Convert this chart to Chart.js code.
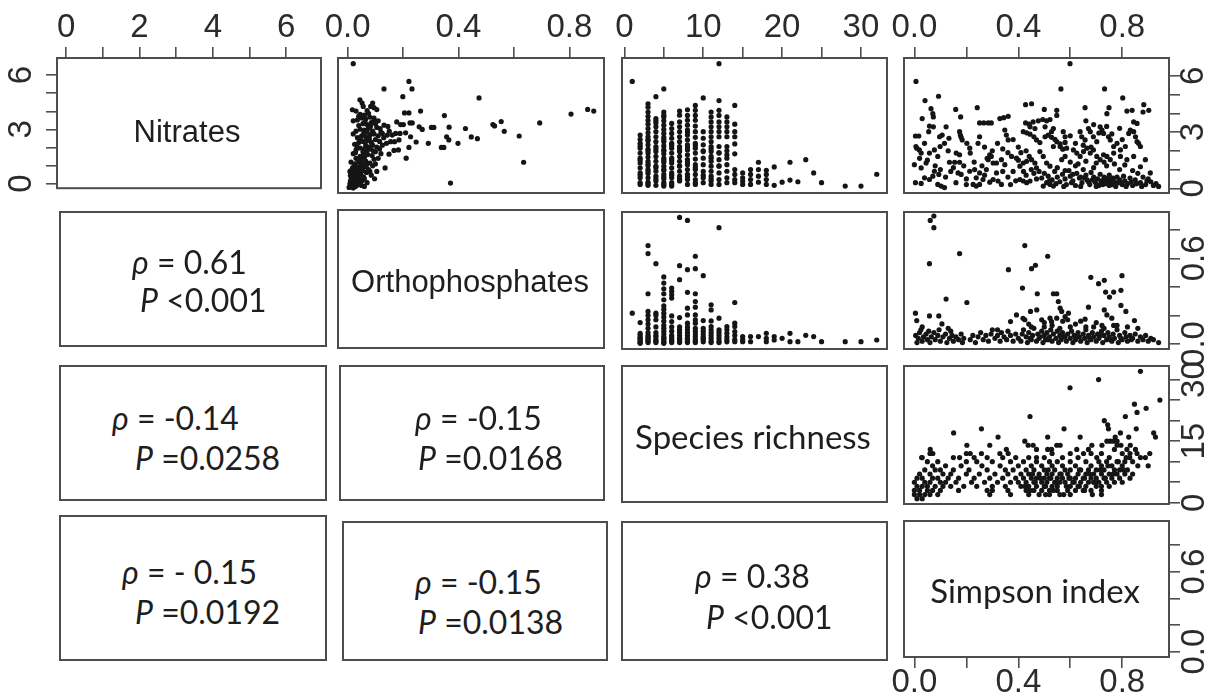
<!DOCTYPE html>
<html>
<head>
<meta charset="utf-8">
<script src="https://cdn.jsdelivr.net/npm/chart.js@4.4.1/dist/chart.umd.min.js"></script>
<style>
  html, body { margin: 0; padding: 0; background: #fff; overflow: hidden; }
  #page { position: relative; width: 1210px; height: 697px; overflow: hidden; }
  canvas { position: absolute; }
  .box { position: absolute; box-sizing: border-box; border: 2px solid #4d4d4d; }
  .txt { position: absolute; white-space: nowrap; line-height: 1; color: #1e1e1e; }
</style>
</head>
<body>
<div id="page"></div>
<script>
// variable names on the diagonal
const variables = ['Nitrates', 'Orthophosphates', 'Species richness', 'Simpson index'];

// correlation text of the lower panels
const rhoText = ['0.61', '-0.14', '-0.15', '- 0.15', '-0.15', '0.38'];
const pText = ['<0.001', '=0.0258', '=0.0168', '=0.0192', '=0.0138', '<0.001'];

// axis ranges, ticks and tick labels
const nitrateRange = [-0.25, 6.95];
const orthoRange = [-0.035, 0.925];
const speciesRange = [-0.3, 33.3];
const simpsonRange = [-0.04, 0.98];

const nitrateTicks = [0, 1, 2, 3, 4, 5, 6];
const nitrateTopLabels = ['0', '', '2', '', '4', '', '6'];
const nitrateSideLabels = ['0', '', '', '3', '', '', '6'];
const orthoTicks = [0, 0.2, 0.4, 0.6, 0.8];
const orthoTopLabels = ['0.0', '', '0.4', '', '0.8'];
const orthoSideLabels = ['0.0', '', '', '0.6', ''];
const speciesTicks = [0, 5, 10, 15, 20, 25, 30];
const speciesTopLabels = ['0', '', '10', '', '20', '', '30'];
const speciesSideLabels = ['0', '', '', '15', '', '', '30'];
const simpsonTicks = [0, 0.2, 0.4, 0.6, 0.8];
const simpsonTopLabels = ['0.0', '', '0.4', '', '0.8'];
const simpsonSideLabels = ['0.0', '', '', '0.6', ''];

// orthophosphates (x) vs nitrates (y)
const orthoNitrates = [
  [0.020,6.65],[0.221,5.70],[0.232,5.30],[0.131,5.30],[0.199,4.89],[0.474,4.82],[0.806,3.96],[0.866,4.21],[0.888,4.12],
  [0.693,3.49],[0.635,1.39],[0.619,2.79],[0.565,3.04],[0.554,3.56],[0.524,3.40],[0.530,3.33],[0.468,2.65],[0.446,2.74],
  [0.425,3.19],[0.398,2.40],[0.371,0.28],[0.366,3.26],[0.349,3.88],[0.357,2.75],[0.365,2.58],[0.338,2.18],[0.347,2.18],
  [0.311,3.25],[0.302,3.25],[0.291,2.40],[0.269,3.14],[0.258,3.28],[0.263,4.12],[0.247,2.47],[0.227,2.75],[0.221,2.18],
  [0.211,1.61],[0.205,4.02],[0.221,4.02],[0.233,3.49],[0.225,3.49],[0.201,3.40],[0.191,3.40],[0.177,3.54],[0.209,2.96],
  [0.189,2.93],[0.173,2.93],[0.161,2.84],[0.143,2.84],[0.155,2.49],[0.169,2.49],[0.185,2.58],[0.183,2.05],[0.167,2.02],
  [0.149,1.82],[0.135,1.09],[0.097,0.51],[0.131,3.37],[0.117,3.19],[0.125,2.93],
  [0.005,0.05],[0.012,0.12],[0.020,0.02],[0.028,0.10],[0.035,0.18],[0.008,0.25],[0.018,0.30],[0.030,0.35],[0.045,0.22],
  [0.052,0.40],[0.060,0.10],[0.040,0.45],[0.015,0.50],[0.070,0.30],[0.025,0.55],[0.010,0.70],[0.022,0.80],[0.035,0.65],
  [0.048,0.75],[0.058,0.60],[0.068,0.85],[0.030,0.95],[0.042,1.05],[0.055,0.95],[0.075,1.00],[0.085,0.70],[0.018,1.10],
  [0.062,1.15],[0.090,1.20],[0.105,0.90],[0.025,1.30],[0.038,1.40],[0.050,1.30],[0.065,1.45],[0.080,1.35],[0.095,1.55],
  [0.030,1.60],[0.045,1.70],[0.060,1.65],[0.072,1.80],[0.088,1.75],[0.110,1.60],[0.020,1.85],[0.055,1.95],[0.100,1.95],
  [0.120,1.85],[0.030,2.05],[0.045,2.15],[0.060,2.10],[0.075,2.20],[0.090,2.30],[0.105,2.20],[0.025,2.35],[0.040,2.45],
  [0.055,2.50],[0.070,2.55],[0.085,2.45],[0.100,2.60],[0.115,2.50],[0.035,2.70],[0.050,2.80],[0.065,2.75],[0.080,2.85],
  [0.095,2.90],[0.110,2.80],[0.020,2.90],[0.130,2.70],[0.140,2.40],[0.030,3.05],[0.045,3.15],[0.060,3.10],[0.075,3.20],
  [0.090,3.05],[0.105,3.25],[0.040,3.35],[0.055,3.45],[0.070,3.40],[0.085,3.50],[0.100,3.45],[0.020,3.60],[0.035,3.65],
  [0.050,3.75],[0.065,3.70],[0.080,3.80],[0.095,3.75],[0.110,3.60],[0.045,3.95],[0.060,3.90],[0.075,4.00],[0.145,3.30],
  [0.150,3.05],[0.017,4.19],[0.030,4.12],[0.044,4.72],[0.056,4.37],[0.083,4.37],[0.095,4.30],[0.070,4.15],[0.052,4.55],
  [0.090,4.55],[0.105,4.20],[0.010,0.40],[0.020,0.65],[0.032,0.85],[0.045,0.95],[0.015,1.00],[0.050,1.20],[0.038,0.50],
  [0.022,0.20],[0.060,0.50],[0.008,0.90],[0.040,1.60],[0.028,1.90],[0.065,2.30],[0.012,1.40],[0.015,0.15],[0.026,0.42],
  [0.034,0.28],[0.042,0.60],[0.050,0.15],[0.012,0.60],[0.024,1.20],[0.036,1.15],[0.048,1.50],[0.058,1.80],[0.070,2.00],
  [0.082,2.10],[0.034,2.20],[0.046,2.60],[0.058,2.95],[0.070,3.00],[0.082,3.30],[0.094,3.60],[0.040,3.85],[0.062,3.55],
  [0.078,2.65],[0.092,2.00],[0.068,1.25],[0.080,0.90],[0.100,1.30],[0.115,2.10],[0.125,2.30],[0.120,3.00]
];

// nitrates at each species richness value
const nitratesBySpecies = [
  [1, [5.70]],
  [2, [2.84,2.61,2.40,2.14,1.88,1.61,1.35,1.09,0.82,0.56,0.30,0.21,2.26,1.50,0.70]],
  [3, [4.51,4.33,4.07,3.84,3.63,3.42,3.19,2.96,2.75,2.54,2.32,2.09,1.88,1.67,1.44,1.21,1.00,0.79,0.56,0.33,0.16,0.25,0.90,1.30,2.00,2.60]],
  [4, [4.89,3.72,3.49,3.28,3.02,2.75,2.49,2.23,1.96,1.70,1.44,1.18,0.91,0.65,0.39,0.16,2.10,1.10,0.50,3.60]],
  [5, [5.30,4.07,3.81,3.60,3.37,3.14,2.93,2.72,2.49,2.26,2.05,1.84,1.61,1.39,1.18,0.96,0.74,0.51,0.30,0.12,3.90,2.60,1.50,0.60,0.20,2.00,1.00]],
  [6, [3.46,3.19,2.93,2.67,2.40,2.14,1.88,1.61,1.35,1.09,0.82,0.56,0.30,0.12,1.50,0.70,2.30,0.20]],
  [7, [4.12,3.54,3.28,3.02,2.75,2.49,2.23,1.96,1.70,1.44,1.18,0.91,0.65,0.39,3.90,1.20,0.50,2.10]],
  [8, [4.19,3.89,3.63,3.37,3.11,2.84,2.58,2.32,2.05,1.79,1.53,1.26,1.00,0.74,0.47,0.21,2.20,1.40,0.60,3.00]],
  [9, [4.42,4.16,3.89,3.63,3.32,3.02,2.72,2.40,2.14,1.88,1.56,1.26,1.00,0.74,0.47,0.21,2.30,1.10,0.30]],
  [10, [4.82,3.02,2.67,2.32,1.96,1.61,1.26,0.91,0.56,0.30,2.00,0.70]],
  [11, [4.07,3.81,3.54,3.28,3.02,2.75,2.49,2.23,1.96,1.70,1.44,1.18,0.91,0.65,0.39,0.21,2.10,1.60,0.50]],
  [12, [6.65,4.68,4.16,3.89,3.54,3.28,3.02,2.75,2.23,1.88,1.53,1.18,0.82,0.47,0.21,1.90,1.20]],
  [13, [3.81,3.54,3.28,3.02,2.75,2.23,1.79,1.61,1.26,0.91,0.56,0.30,2.00]],
  [14, [4.42,3.42,3.02,2.75,2.37,1.84,1.00,0.74,0.47,0.30]],
  [15, [0.82,0.56,0.39,0.21]],
  [16, [1.00,0.74,0.47,0.21]],
  [17, [1.39,1.00,0.65,0.33]],
  [18, [0.96,0.74,0.47,0.21]],
  [19, [1.14,0.16]],
  [20, [0.33]],
  [21, [1.39,0.44]],
  [22, [0.35]],
  [23, [1.53]],
  [24, [0.82]],
  [25, [0.30]],
  [28, [0.12]],
  [30, [0.12]],
  [32, [0.75]]
];

// simpson index (x) vs nitrates (y)
const simpsonNitrates = [
  [0.006,5.70],[0.599,6.65],[0.564,5.30],[0.732,5.30],[0.802,4.82],[0.093,4.91],[0.041,4.68],[0.159,4.21],[0.242,4.30],
  [0.428,4.46],[0.451,4.51],[0.500,4.21],[0.548,4.16],[0.548,3.89],[0.657,4.30],[0.749,4.30],[0.741,3.98],[0.818,4.12],
  [0.838,4.16],[0.883,4.46],[0.902,4.16],[0.880,4.07],[0.064,4.25],[0.071,3.98],[0.073,3.81],[0.030,3.72],[0.178,3.81],
  [0.251,3.49],[0.267,3.49],[0.284,3.49],[0.296,3.49],[0.329,3.72],[0.344,3.77],[0.361,3.84],[0.348,3.11],[0.354,2.84],
  [0.361,2.58],[0.428,3.49],[0.442,3.42],[0.457,3.54],[0.477,3.60],[0.494,3.67],[0.509,3.60],[0.522,3.67],[0.445,3.28],
  [0.464,3.19],[0.503,3.28],[0.535,3.19],[0.528,3.02],[0.419,3.02],[0.432,2.96],[0.445,2.89],[0.460,2.75],[0.470,2.58],
  [0.483,2.44],[0.503,2.75],[0.515,2.84],[0.528,2.72],[0.541,2.61],[0.548,2.49],[0.561,2.37],[0.573,3.02],[0.580,2.75],
  [0.535,2.23],[0.561,2.23],[0.571,2.09],[0.586,2.14],[0.580,1.70],[0.567,1.53],[0.004,2.79],[0.017,2.79],[0.055,3.02],
  [0.058,3.32],[0.073,3.28],[0.097,2.75],[0.107,2.84],[0.122,3.28],[0.133,2.67],[0.174,3.02],[0.177,2.84],[0.180,2.72],
  [0.184,2.58],[0.202,2.40],[0.213,2.14],[0.215,1.88],[0.245,2.40],[0.251,2.75],[0.006,2.23],[0.009,2.14],[0.019,2.05],
  [0.026,1.88],[0.039,2.40],[0.058,1.88],[0.077,2.05],[0.090,1.70],[0.099,2.23],[0.116,2.40],[0.135,1.39],[0.155,1.39],
  [0.174,1.39],[0.161,1.88],[0.174,1.79],[0.000,1.26],[0.026,1.09],[0.045,1.35],[0.077,0.91],[0.094,0.74],[0.071,0.65],
  [0.058,0.47],[0.039,0.56],[0.004,0.30],[0.026,0.26],[0.090,0.21],[0.103,0.12],[0.116,0.04],[0.168,0.82],[0.180,0.74],
  [0.213,0.91],[0.232,1.00],[0.238,0.56],[0.251,0.82],[0.264,0.47],[0.277,1.00],[0.284,1.53],[0.290,1.79],[0.296,1.70],
  [0.303,1.35],[0.316,0.82],[0.322,0.39],[0.335,0.21],[0.226,0.21],[0.238,0.12],[0.251,0.21],[0.290,0.33],[0.303,0.47],
  [0.316,1.35],[0.335,1.53],[0.348,1.26],[0.374,1.70],[0.393,1.61],[0.406,1.18],[0.419,1.35],[0.432,1.44],[0.442,1.70],
  [0.451,1.53],[0.464,1.35],[0.470,1.09],[0.483,1.96],[0.496,1.70],[0.509,1.35],[0.522,1.18],[0.406,0.47],[0.419,0.39],
  [0.432,0.30],[0.445,0.39],[0.509,0.30],[0.522,0.21],[0.535,0.12],[0.496,0.12],
  [0.490,0.55],[0.500,0.80],[0.515,0.65],[0.530,0.45],[0.540,0.90],[0.550,0.60],[0.560,0.35],[0.570,0.75],[0.580,0.50],
  [0.585,0.20],[0.595,0.95],[0.600,0.65],[0.610,0.40],[0.620,0.15],[0.625,0.80],[0.635,0.55],[0.645,0.30],[0.650,1.00],
  [0.660,0.70],[0.665,0.45],[0.675,0.20],[0.680,0.85],[0.690,0.60],[0.695,0.35],[0.705,0.50],[0.710,0.15],[0.715,0.75],
  [0.720,0.40],[0.730,0.60],[0.735,0.25],[0.740,0.50],[0.745,0.35],[0.750,0.70],[0.755,0.45],[0.760,0.20],[0.765,0.55],
  [0.770,0.35],[0.780,0.60],[0.785,0.30],[0.790,0.45],[0.800,0.20],[0.805,0.65],[0.810,0.40],[0.820,0.25],[0.830,0.55],
  [0.840,0.15],[0.850,0.45],[0.860,0.80],[0.870,0.30],[0.880,0.60],[0.890,0.20],[0.900,0.50],[0.910,0.35],[0.920,0.15],
  [0.930,0.25],[0.720,0.30],[0.760,0.40],[0.730,0.45],[0.700,0.25],[0.670,0.35],[0.640,0.60],[0.610,0.75],[0.580,0.95],
  [0.550,1.10],[0.620,1.20],[0.690,1.10],[0.740,1.20],[0.790,1.00],[0.840,0.95],[0.870,1.15],
  [0.638,3.02],[0.644,2.75],[0.657,2.58],[0.670,3.19],[0.677,3.02],[0.689,2.75],[0.702,2.49],[0.715,3.28],[0.722,3.11],
  [0.728,2.93],[0.747,2.75],[0.754,2.58],[0.767,2.23],[0.780,2.40],[0.793,2.05],[0.812,2.23],[0.825,2.93],[0.831,3.11],
  [0.844,3.02],[0.851,2.75],[0.857,2.49],[0.863,2.40],[0.870,2.23],[0.844,3.54],[0.857,3.46],[0.612,2.05],[0.625,1.88],
  [0.638,1.70],[0.651,1.96],[0.664,2.14],[0.677,1.88],[0.689,2.05],[0.702,1.70],[0.715,1.53],[0.728,1.79],[0.741,1.70],
  [0.754,1.53],[0.767,1.88],[0.793,1.70],[0.818,1.53],[0.844,1.70],[0.889,1.53],[0.908,0.82],[0.600,1.40],[0.630,1.30],
  [0.660,1.45],[0.700,1.35],[0.730,1.40],[0.770,1.30],[0.810,1.25],[0.620,2.40],[0.650,2.30],[0.680,2.20],[0.710,2.95],
  [0.740,3.30],[0.660,3.60],[0.690,3.40],[0.580,2.45],[0.600,2.80],[0.760,2.90],[0.790,3.20],[0.800,2.60],
  [0.020,1.60],[0.050,1.50],[0.080,1.20],[0.100,1.00],[0.120,0.60],[0.140,0.90],[0.150,1.10],[0.190,1.20],[0.200,0.50],
  [0.160,0.30],[0.200,0.20],[0.260,1.20],[0.280,1.60],[0.300,2.00],[0.320,2.40],[0.340,2.10],[0.360,1.90],[0.380,0.90],
  [0.390,0.40],[0.400,2.20],[0.410,1.90],[0.430,2.00],[0.380,2.60],[0.370,0.20],[0.360,0.60],[0.420,0.90],[0.460,0.80],
  [0.470,0.50],[0.450,1.00],[0.480,0.90],
  [0.520,0.40],[0.545,0.25],[0.575,0.10],[0.605,0.30],[0.640,0.10],[0.655,0.55],[0.685,0.45],[0.700,0.10],[0.725,0.20],
  [0.750,0.15],[0.775,0.10],[0.795,0.30],[0.815,0.10],[0.835,0.35],[0.855,0.25],[0.875,0.10],[0.895,0.40],[0.940,0.10],
  [0.230,1.40],[0.270,0.70],[0.340,0.90],[0.400,1.50],[0.430,0.70],[0.130,2.00],[0.270,2.20]
];

// orthophosphates at each species richness value
const orthoBySpecies = [
  [1, [0.216]],
  [2, [0.150,0.075,0.060,0.045,0.030,0.020,0.010,0.005,0.040]],
  [3, [0.690,0.634,0.352,0.228,0.200,0.170,0.140,0.110,0.080,0.060,0.040,0.020,0.010,0.030,0.050]],
  [4, [0.563,0.216,0.200,0.170,0.120,0.080,0.050,0.030,0.010,0.020,0.060]],
  [5, [0.470,0.427,0.387,0.352,0.310,0.268,0.244,0.216,0.190,0.160,0.130,0.110,0.090,0.070,0.050,0.035,0.020,0.010,0.005,0.040]],
  [6, [0.392,0.369,0.345,0.322,0.197,0.157,0.120,0.090,0.060,0.030,0.010,0.045,0.020]],
  [7, [0.887,0.549,0.451,0.185,0.120,0.100,0.080,0.060,0.040,0.020,0.010,0.030]],
  [8, [0.866,0.521,0.362,0.251,0.204,0.146,0.120,0.100,0.080,0.060,0.040,0.020,0.010,0.030]],
  [9, [0.615,0.528,0.352,0.298,0.258,0.204,0.169,0.146,0.110,0.090,0.070,0.050,0.030,0.010,0.020]],
  [10, [0.479,0.164,0.110,0.090,0.070,0.050,0.030,0.015,0.040]],
  [11, [0.275,0.239,0.162,0.122,0.100,0.080,0.060,0.040,0.020,0.010]],
  [12, [0.815,0.181,0.099,0.080,0.060,0.040,0.020,0.010]],
  [13, [0.122,0.100,0.075,0.050,0.030,0.015]],
  [14, [0.291,0.146,0.122,0.087,0.060,0.030,0.016]],
  [15, [0.052,0.016,0.030]],
  [16, [0.052,0.016]],
  [17, [0.052]],
  [18, [0.075,0.040,0.016]],
  [19, [0.052,0.028]],
  [20, [0.040]],
  [21, [0.075,0.016]],
  [22, [0.016]],
  [23, [0.061]],
  [24, [0.052]],
  [25, [0.016]],
  [28, [0.016]],
  [30, [0.016]],
  [32, [0.028]]
];

// simpson index (x) vs orthophosphates (y)
const simpsonOrtho = [
  [0.061,0.866],[0.075,0.897],[0.075,0.815],[0.058,0.563],[0.174,0.634],[0.122,0.315],[0.202,0.291],[0.058,0.197],
  [0.094,0.197],[0.106,0.141],[0.004,0.216],[0.009,0.164],[0.425,0.690],[0.513,0.615],[0.362,0.521],[0.451,0.528],
  [0.466,0.552],[0.416,0.392],[0.473,0.352],[0.535,0.352],[0.548,0.352],[0.554,0.298],[0.561,0.251],[0.567,0.228],
  [0.393,0.204],[0.425,0.170],[0.418,0.180],[0.447,0.228],[0.471,0.239],[0.370,0.157],[0.522,0.181],[0.528,0.157],
  [0.548,0.181],[0.580,0.192],[0.593,0.216],[0.571,0.160],[0.657,0.174],[0.670,0.258],[0.679,0.467],[0.709,0.423],
  [0.731,0.446],[0.736,0.364],[0.751,0.329],[0.767,0.364],[0.799,0.479],[0.795,0.376],[0.795,0.270],[0.814,0.228],
  [0.731,0.239],[0.741,0.204],[0.760,0.181],[0.722,0.130],[0.767,0.130],[0.847,0.164],[0.490,0.170],[0.500,0.120],
  [0.440,0.140],[0.600,0.120],[0.690,0.120],[0.320,0.100],[0.130,0.110],[0.030,0.120],
  [0.005,0.06],[0.015,0.04],[0.020,0.08],[0.030,0.02],[0.035,0.05],[0.045,0.07],[0.050,0.03],[0.060,0.01],[0.065,0.05],
  [0.075,0.08],[0.080,0.03],[0.090,0.06],[0.100,0.02],[0.110,0.05],[0.120,0.07],[0.125,0.01],[0.135,0.04],[0.145,0.06],
  [0.150,0.02],[0.160,0.05],[0.170,0.03],[0.180,0.07],[0.185,0.01],[0.190,0.04],[0.010,0.01],[0.025,0.10],[0.055,0.09],
  [0.095,0.10],[0.140,0.09],[0.215,0.03],[0.225,0.06],[0.235,0.01],[0.245,0.05],[0.255,0.08],[0.265,0.03],[0.275,0.06],
  [0.285,0.02],[0.295,0.07],[0.300,0.10],[0.310,0.04],[0.320,0.06],[0.330,0.02],[0.335,0.08],[0.345,0.05],[0.355,0.03],
  [0.360,0.09],[0.370,0.06],[0.380,0.02],[0.390,0.07],[0.400,0.04],[0.410,0.02],[0.415,0.07],[0.420,0.10],[0.430,0.05],
  [0.435,0.01],[0.440,0.08],[0.450,0.03],[0.455,0.06],[0.460,0.11],[0.470,0.02],[0.475,0.07],[0.480,0.04],[0.490,0.09],
  [0.495,0.01],[0.500,0.06],[0.505,0.03],[0.510,0.08],[0.520,0.05],[0.525,0.10],[0.530,0.02],[0.535,0.07],[0.545,0.04],
  [0.550,0.09],[0.555,0.01],[0.560,0.06],[0.565,0.03],[0.570,0.08],[0.580,0.05],[0.585,0.02],[0.590,0.07],[0.600,0.04],
  [0.605,0.09],[0.610,0.01],[0.615,0.06],[0.620,0.03],[0.630,0.08],[0.635,0.05],[0.640,0.02],[0.650,0.07],[0.655,0.04],
  [0.660,0.10],[0.665,0.01],[0.670,0.06],[0.680,0.03],[0.685,0.08],[0.690,0.05],[0.700,0.02],[0.705,0.07],[0.710,0.04],
  [0.720,0.09],[0.725,0.01],[0.730,0.06],[0.740,0.03],[0.745,0.08],[0.750,0.05],[0.760,0.02],[0.765,0.07],[0.770,0.04],
  [0.780,0.10],[0.785,0.01],[0.790,0.06],[0.800,0.03],[0.810,0.08],[0.815,0.05],[0.820,0.02],[0.830,0.06],[0.840,0.04],
  [0.850,0.07],[0.860,0.02],[0.870,0.05],[0.880,0.03],[0.890,0.06],[0.900,0.02],[0.910,0.04],[0.920,0.03],[0.940,0.01],
  [0.445,0.04],[0.485,0.05],[0.515,0.03],[0.575,0.05],[0.625,0.05],[0.675,0.04],[0.715,0.06],[0.755,0.03],[0.795,0.04],
  [0.835,0.03],[0.450,0.12],[0.500,0.15],[0.530,0.13],[0.560,0.11],[0.620,0.14],[0.660,0.12],[0.700,0.15],[0.730,0.11],
  [0.780,0.13],[0.820,0.12],[0.860,0.11],[0.590,0.17],[0.640,0.16]
];

// simpson index (x) vs species richness (y)
const simpsonSpecies = [
  [0.870,32],[0.709,30],[0.599,28],[0.945,25],[0.892,23],[0.847,24],[0.857,22],[0.445,21],[0.812,21],[0.731,20],
  [0.744,19],[0.747,18],[0.258,18],[0.576,18],[0.793,17],[0.151,17],[0.322,16],[0.513,16],[0.638,16],[0.773,16],
  [0.825,16],[0.854,18],[0.921,17],[0.928,16],[0.741,15],[0.754,15],[0.767,15],[0.780,15],[0.425,15],[0.202,14],
  [0.290,14],[0.438,14],[0.457,14],[0.513,13],[0.528,13],[0.548,14],[0.561,14],[0.625,13],[0.683,14],[0.722,14],
  [0.780,14],[0.831,14],[0.354,13],[0.061,13],[0.028,11],[0.071,12],[0.174,11],[0.215,12],[0.258,12],[0.329,12],
  [0.361,12],[0.651,12],[0.670,13],[0.795,14],[0.818,13],[0.851,13],[0.857,12],[0.906,12],[0.889,11],[0.870,11],
  [0.829,11],[0.702,11],[0.470,13],[0.470,11],
  [0.05,10],[0.09,10],[0.20,10],[0.24,10],[0.30,10],[0.37,10],[0.42,10],[0.47,10],[0.52,10],[0.55,10],[0.60,10],
  [0.66,10],[0.71,10],[0.74,10],[0.78,10],[0.81,10],[0.84,10],
  [0.07,9],[0.12,9],[0.18,9],[0.26,9],[0.33,9],[0.40,9],[0.45,9],[0.49,9],[0.53,9],[0.57,9],[0.62,9],[0.68,9],[0.72,9],
  [0.76,9],[0.80,9],[0.86,9],[0.90,9],
  [0.04,8],[0.08,8],[0.10,8],[0.15,8],[0.21,8],[0.28,8],[0.35,8],[0.38,8],[0.43,8],[0.46,8],[0.50,8],[0.54,8],[0.58,8],
  [0.60,8],[0.64,8],[0.67,8],[0.70,8],[0.73,8],[0.77,8],[0.79,8],[0.82,8],
  [0.02,7],[0.06,7],[0.11,7],[0.14,7],[0.20,7],[0.25,7],[0.31,7],[0.36,7],[0.41,7],[0.44,7],[0.48,7],[0.51,7],[0.53,7],
  [0.56,7],[0.59,7],[0.63,7],[0.66,7],[0.69,7],[0.72,7],[0.75,7],[0.78,7],[0.81,7],[0.84,7],
  [0.01,6],[0.03,6],[0.07,6],[0.09,6],[0.13,6],[0.17,6],[0.23,6],[0.29,6],[0.34,6],[0.39,6],[0.42,6],[0.45,6],[0.47,6],
  [0.50,6],[0.52,6],[0.55,6],[0.57,6],[0.60,6],[0.62,6],[0.65,6],[0.68,6],[0.70,6],[0.73,6],[0.76,6],[0.79,6],[0.83,6],
  [0.00,5],[0.04,5],[0.06,5],[0.10,5],[0.12,5],[0.16,5],[0.22,5],[0.27,5],[0.32,5],[0.37,5],[0.40,5],[0.43,5],[0.46,5],
  [0.49,5],[0.51,5],[0.54,5],[0.56,5],[0.58,5],[0.61,5],[0.64,5],[0.67,5],[0.69,5],[0.71,5],[0.74,5],[0.77,5],[0.80,5],
  [0.01,4],[0.03,4],[0.05,4],[0.08,4],[0.11,4],[0.14,4],[0.19,4],[0.24,4],[0.30,4],[0.35,4],[0.41,4],[0.44,4],[0.47,4],
  [0.50,4],[0.53,4],[0.55,4],[0.60,4],[0.63,4],[0.66,4],[0.70,4],[0.72,4],[0.75,4],
  [0.00,3],[0.02,3],[0.05,3],[0.07,3],[0.10,3],[0.17,3],[0.28,3],[0.30,3],[0.36,3],[0.43,3],[0.46,3],[0.49,3],[0.52,3],
  [0.55,3],[0.59,3],[0.62,3],[0.65,3],[0.68,3],[0.72,3],
  [0.00,2],[0.02,2],[0.04,2],[0.06,2],[0.09,2],[0.29,2],[0.37,2],[0.44,2],[0.48,2],[0.52,2],[0.56,2],[0.60,2],[0.72,2],
  [0.01,1],[0.03,1],
  [0.03,11],[0.06,12],[0.15,11],[0.20,12],[0.23,11],[0.28,11],[0.34,11],[0.39,11],[0.44,11],[0.50,11],[0.53,12],
  [0.57,11],[0.60,12],[0.63,11],[0.68,12],[0.72,12],[0.75,11],[0.77,13],[0.80,12],[0.83,12],
  [0.455,7],[0.465,5],[0.485,6],[0.505,4],[0.515,8],[0.525,6],[0.545,5],[0.565,7],[0.585,4],[0.595,6],[0.615,5],
  [0.635,8],[0.655,6],[0.675,7],[0.695,5],[0.715,8],[0.735,6],[0.745,9],[0.765,7],[0.785,10],[0.805,8],[0.815,11],
  [0.425,4],[0.445,3],[0.505,2],[0.535,3],[0.575,2],[0.635,4],[0.655,3],[0.685,2]
];

// ---- layout ----
const colX = [[57, 321], [338, 604], [622, 887], [904, 1169]];
const rowY = [[58, 193], [212, 349], [366, 504], [521, 657]];

const AXIS_FONT = '"Liberation Sans", Arial, sans-serif';
const SOFT_FONT = 'Lato, "Open Sans", sans-serif';
const TICK_SIZE = 33;
const page = document.getElementById('page');

const toXY = pairs => pairs.map(([x, y]) => ({ x, y }));
const fromColumns = cols => cols.flatMap(([x, ys]) => ys.map(y => ({ x, y })));

const framePlugin = {
  id: 'frame',
  afterDatasetsDraw(chart) {
    const a = chart.chartArea, g = chart.ctx;
    g.save();
    g.strokeStyle = '#4d4d4d';
    g.lineWidth = 2;
    g.strokeRect(a.left, a.top, a.right - a.left, a.bottom - a.top);
    g.restore();
  }
};

function makeScale(ax, size) {
  const vertical = ax.pos === 'left' || ax.pos === 'right';
  const s = {
    type: 'linear',
    min: ax.range[0],
    max: ax.range[1],
    display: !!ax.pos,
    grid: { drawOnChartArea: false, drawTicks: true, tickLength: 11, color: '#505050', lineWidth: 1.6 },
    border: { display: false },
    afterBuildTicks: sc => { sc.ticks = ax.ticks.map(v => ({ value: v })); },
    ticks: {
      autoSkip: false,
      includeBounds: false,
      color: '#2b2b2b',
      font: { family: AXIS_FONT, size: TICK_SIZE },
      padding: ax.pad || 0,
      minRotation: vertical ? 90 : 0,
      maxRotation: vertical ? 90 : 0,
      crossAlign: vertical ? 'center' : 'near',
      callback: (v, i) => ax.labels[i]
    }
  };
  if (ax.pos) {
    s.position = ax.pos;
    s.afterFit = sc => { if (vertical) sc.width = size; else sc.height = size; };
  }
  return s;
}

function panel(r, c, xAx, yAx, points) {
  const [x0, x1] = colX[c], [y0, y1] = rowY[r];
  const m = { l: 30, r: 30, t: 30, b: 30 };
  if (xAx.pos === 'top') m.t = y0;
  if (xAx.pos === 'bottom') m.b = 40;
  if (yAx.pos === 'left') m.l = x0;
  if (yAx.pos === 'right') m.r = 41;
  const cv = document.createElement('canvas');
  cv.width = x1 - x0 + m.l + m.r;
  cv.height = y1 - y0 + m.t + m.b;
  cv.style.left = (x0 - m.l) + 'px';
  cv.style.top = (y0 - m.t) + 'px';
  page.appendChild(cv);
  new Chart(cv, {
    type: 'scatter',
    data: {
      datasets: [{
        data: points,
        pointRadius: 2.6,
        pointHoverRadius: 2.6,
        backgroundColor: '#151515',
        borderWidth: 0
      }]
    },
    options: {
      responsive: false,
      animation: false,
      devicePixelRatio: 1,
      layout: {
        autoPadding: false,
        padding: {
          left: yAx.pos === 'left' ? 0 : m.l,
          right: yAx.pos === 'right' ? 0 : m.r,
          top: xAx.pos === 'top' ? 0 : m.t,
          bottom: xAx.pos === 'bottom' ? 0 : m.b
        }
      },
      plugins: { legend: { display: false }, tooltip: { enabled: false } },
      scales: {
        x: makeScale(xAx, xAx.pos === 'top' ? m.t : m.b),
        y: makeScale(yAx, yAx.pos === 'left' ? m.l : m.r)
      }
    },
    plugins: [framePlugin]
  });
}

function box(x0, y0, x1, y1) {
  const d = document.createElement('div');
  d.className = 'box';
  d.style.left = (x0 - 1) + 'px';
  d.style.top = (y0 - 1) + 'px';
  d.style.width = (x1 - x0 + 2) + 'px';
  d.style.height = (y1 - y0 + 2) + 'px';
  page.appendChild(d);
}

function text(html, x, y, font, size, centred) {
  const d = document.createElement('div');
  d.className = 'txt';
  d.innerHTML = html;
  d.style.left = x + 'px';
  d.style.top = y + 'px';
  d.style.fontFamily = font;
  d.style.fontSize = size + 'px';
  d.style.transform = centred ? 'translate(-50%, -50%)' : 'translateY(-50%)';
  page.appendChild(d);
}

// ---- upper panels and axes ----
const hide = (range, ticks) => ({ range, ticks, labels: ticks.map(() => '') });

panel(0, 0,
  { range: nitrateRange, ticks: nitrateTicks, labels: nitrateTopLabels, pos: 'top', pad: -1 },
  { range: nitrateRange, ticks: nitrateTicks, labels: nitrateSideLabels, pos: 'left', pad: 15 }, []);
panel(0, 1,
  { range: orthoRange, ticks: orthoTicks, labels: orthoTopLabels, pos: 'top', pad: -1 },
  hide(nitrateRange, nitrateTicks), toXY(orthoNitrates));
panel(0, 2,
  { range: speciesRange, ticks: speciesTicks, labels: speciesTopLabels, pos: 'top', pad: -1 },
  hide(nitrateRange, nitrateTicks), fromColumns(nitratesBySpecies));
panel(0, 3,
  { range: simpsonRange, ticks: simpsonTicks, labels: simpsonTopLabels, pos: 'top', pad: -1 },
  { range: nitrateRange, ticks: nitrateTicks, labels: nitrateSideLabels, pos: 'right', pad: 5 }, toXY(simpsonNitrates));
panel(1, 2, hide(speciesRange, speciesTicks), hide(orthoRange, orthoTicks), fromColumns(orthoBySpecies));
panel(1, 3, hide(simpsonRange, simpsonTicks),
  { range: orthoRange, ticks: orthoTicks, labels: orthoSideLabels, pos: 'right', pad: -8 }, toXY(simpsonOrtho));
panel(2, 3, hide(simpsonRange, simpsonTicks),
  { range: speciesRange, ticks: speciesTicks, labels: speciesSideLabels, pos: 'right', pad: -3 }, toXY(simpsonSpecies));
panel(3, 3,
  { range: simpsonRange, ticks: simpsonTicks, labels: simpsonTopLabels, pos: 'bottom', pad: -5 },
  { range: simpsonRange, ticks: simpsonTicks, labels: simpsonSideLabels, pos: 'right', pad: -8 }, []);

// ---- diagonal names ----
box(338, 210, 604, 348);
box(622, 366, 887, 502);
text(variables[0], 187, 131, AXIS_FONT, 31, true);
text(variables[1], 470, 281, AXIS_FONT, 31, true);
text(variables[2], 753, 436, SOFT_FONT, 33, true);
text(variables[3], 1035, 590, SOFT_FONT, 33, true);

// ---- lower panels: correlation boxes ----
const lowerBoxes = [
  [60, 212, 326, 346], [60, 366, 326, 500], [340, 366, 604, 500],
  [60, 516, 326, 660], [343, 522, 607, 660], [622, 522, 887, 660]
];
const rhoPos = [[132, 262], [112, 418], [415, 418], [122, 572], [415, 582], [695, 576]];
const pPos = [[140, 300], [135, 458], [418, 458], [135, 612], [418, 622], [706, 617]];
lowerBoxes.forEach((b, i) => {
  box(...b);
  text('<i>ρ</i> = ' + rhoText[i], rhoPos[i][0], rhoPos[i][1], SOFT_FONT, 32, false);
  text('<i>P</i> ' + pText[i].replace('<', '&lt;'), pPos[i][0], pPos[i][1], SOFT_FONT, 32, false);
});
</script>
</body>
</html>
